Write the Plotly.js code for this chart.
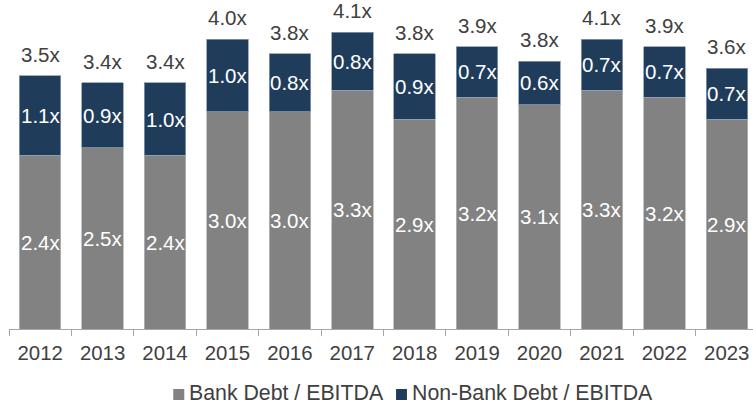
<!DOCTYPE html>
<html>
<head>
<meta charset="utf-8">
<script src="https://cdn.plot.ly/plotly-3.0.1.min.js"></script>
<style>html,body{margin:0;padding:0;background:#fff;}#chart{width:753px;height:404px;}</style>
</head>
<body>
<div id="chart"></div>
<script>
var years = ['2012','2013','2014','2015','2016','2017','2018','2019','2020','2021','2022','2023'];
var bankDebt = [2.4, 2.5, 2.4, 3.0, 3.0, 3.3, 2.9, 3.2, 3.1, 3.3, 3.2, 2.9];
var nonBankDebt = [1.1, 0.9, 1.0, 1.0, 0.8, 0.8, 0.9, 0.7, 0.6, 0.7, 0.7, 0.7];
var totalLabels = [3.5, 3.4, 3.4, 4.0, 3.8, 4.1, 3.8, 3.9, 3.8, 4.1, 3.9, 3.6];
var seriesNames = ['Bank Debt / EBITDA', 'Non-Bank Debt / EBITDA'];

var FONT = 'Liberation Sans, Arial, sans-serif';
var GRAY = '#828282';
var NAVY = '#1f3d5b';
var TXT = '#404040';
var LBL = 20.5;

var traces = [
  {type:'bar', x:years, y:bankDebt, name:seriesNames[0], marker:{color:GRAY, line:{color:'#b8b8b8', width:0.8}}, hoverinfo:'none'},
  {type:'bar', x:years, y:nonBankDebt, name:seriesNames[1], marker:{color:NAVY, line:{color:'#8a9bb0', width:0.8}}, hoverinfo:'none'}
];

var ann = [];
for (var i = 0; i < years.length; i++) {
  ann.push({x:i, y:bankDebt[i]/2, xref:'x', yref:'y', text:bankDebt[i].toFixed(1)+'x', showarrow:false, font:{family:FONT, size:LBL, color:'#ffffff'}});
  ann.push({x:i, y:bankDebt[i]+nonBankDebt[i]/2, xref:'x', yref:'y', text:nonBankDebt[i].toFixed(1)+'x', showarrow:false, font:{family:FONT, size:LBL, color:'#ffffff'}});
  ann.push({x:i, y:bankDebt[i]+nonBankDebt[i], xref:'x', yref:'y', text:totalLabels[i].toFixed(1)+'x', showarrow:false, yanchor:'bottom', yshift:8, font:{family:FONT, size:LBL, color:TXT}});
}
// manual legend
ann.push({x:0.2395, y:-0.196, xref:'paper', yref:'paper', xanchor:'left', yanchor:'middle', text:seriesNames[0], showarrow:false, font:{family:FONT, size:21.3, color:TXT}});
ann.push({x:0.5385, y:-0.196, xref:'paper', yref:'paper', xanchor:'left', yanchor:'middle', text:seriesNames[1], showarrow:false, font:{family:FONT, size:21.3, color:TXT}});

var shapes = [
  {type:'rect', xref:'paper', yref:'paper', x0:0.2208, x1:0.2356, y0:-0.1824, y1:-0.2158, fillcolor:GRAY, line:{width:0}},
  {type:'rect', xref:'paper', yref:'paper', x0:0.5202, x1:0.5349, y0:-0.1824, y1:-0.2158, fillcolor:NAVY, line:{width:0}}
];

var layout = {
  width:753, height:404,
  margin:{l:9, r:0, t:0, b:75},
  barmode:'stack', bargap:0.335,
  showlegend:false,
  paper_bgcolor:'#fff', plot_bgcolor:'#fff',
  font:{family:FONT, size:20, color:TXT},
  xaxis:{type:'category', range:[-0.5, 11.42], showline:true, linecolor:'#a6a6a6', linewidth:1,
         ticks:'outside', tickson:'boundaries', ticklen:6, tickcolor:'#a6a6a6', tickwidth:1,
         ticklabelstandoff:6,
         tickfont:{family:FONT, size:20.4, color:TXT}, showgrid:false, zeroline:false, fixedrange:true},
  yaxis:{range:[0, 4.544], visible:false, showgrid:false, zeroline:false, fixedrange:true},
  annotations:ann,
  shapes:shapes
};

Plotly.newPlot('chart', traces, layout, {staticPlot:true, displayModeBar:false});
</script>
</body>
</html>
